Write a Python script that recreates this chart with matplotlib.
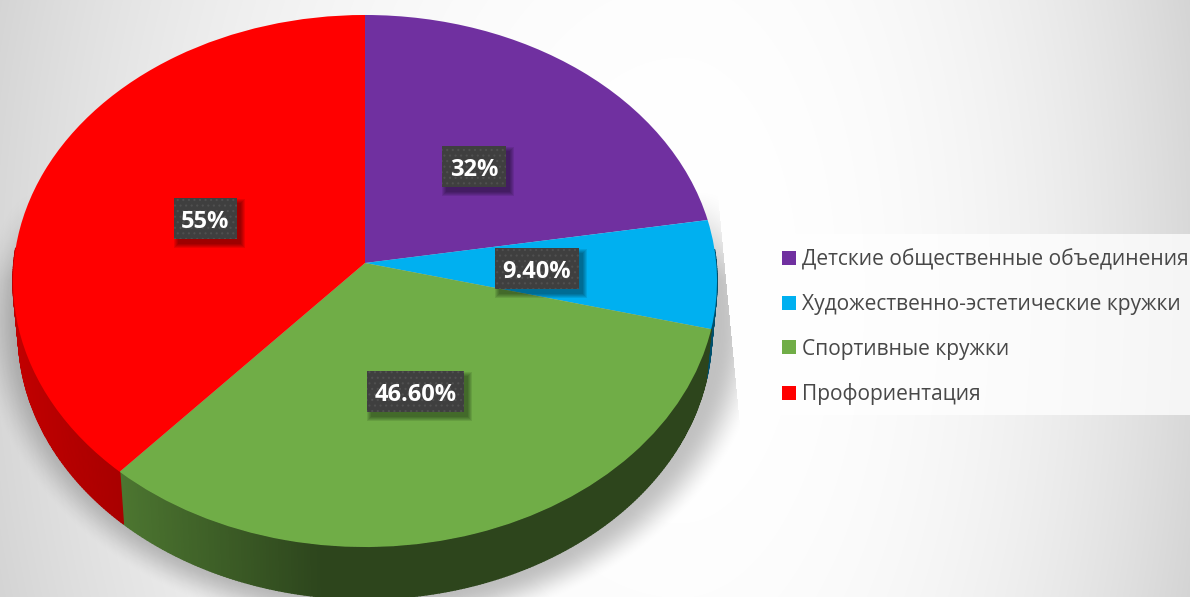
import numpy as np
import matplotlib
matplotlib.use("Agg")
import matplotlib.pyplot as plt
from matplotlib.collections import PolyCollection
from matplotlib.patches import Rectangle
from matplotlib.transforms import Transform
from matplotlib.colors import to_rgb

categories = ["Детские общественные объединения", "Художественно-эстетические кружки",
              "Спортивные кружки", "Профориентация"]
values = [32, 9.4, 46.6, 55]
value_labels = ["32%", "9.40%", "46.60%", "55%"]
colors = ["#7030A0", "#00B0F0", "#70AD47", "#FF0000"]

W, H = 1190, 597
plt.rcParams['font.family'] = ['Open Sans', 'DejaVu Sans']
plt.rcParams['hatch.linewidth'] = 0.8

CX, CY, AX_, BY, K = 365.0, 263.0, 351.2, 247.0, 0.0677
DEPTH, SHRINK = 52.0, 0.985


class Perspective(Transform):
    input_dims = output_dims = 2

    def __init__(self, dy=0.0, sx=1.0):
        super().__init__()
        self.dy, self.sx = dy, sx

    def transform_non_affine(self, pts):
        pts = np.asarray(pts, float)
        u, v = pts[:, 0], pts[:, 1]
        w = 1 + K * v
        return np.column_stack((CX + self.sx * AX_ * u / w, (CY - BY * v) / w + self.dy))


fig = plt.figure(figsize=(W / 100, H / 100), dpi=100)
ax = fig.add_axes([0, 0, 1, 1])

# background: soft radial vignette
yy, xx = np.mgrid[0:H, 0:W]
dx = np.where(xx < 680, (xx - 680) / 680.0, (xx - 680) / 510.0)
dy = (yy - 290) / 1000.0
R = np.sqrt(dx ** 2 + dy ** 2)
bg = np.clip(1 - 0.15 * R ** 2.5, 0, 1)
ax.imshow(np.dstack([bg] * 3), extent=(0, W, H, 0), aspect='auto', zorder=0, interpolation='bilinear')

# shadow behind the pie
ex, ey = (xx - 372) / 395.0, (yy - 320) / 315.0
rr = np.sqrt(ex ** 2 + ey ** 2)
sh = np.clip((1.0 - rr) / 0.12, 0, 1)
sh = sh * sh * (3 - 2 * sh) * 0.24 * np.clip((yy - 190) / 90.0, 0, 1)
clip_edge = 718 + (yy - 200) * 22 / 230
sh = np.where(xx > clip_edge, 0, sh)
rgba = np.zeros((H, W, 4))
rgba[..., 3] = sh
ax.imshow(rgba, extent=(0, W, H, 0), aspect='auto', zorder=1, interpolation='bilinear')

# side wall, one quad per small arc (front half only)
top_t, bot_t = Perspective(), Perspective(DEPTH, SHRINK)
frac = np.cumsum([0] + values) / np.sum(values)
polys, cols = [], []
for i, c in enumerate(colors):
    a0, a1 = frac[i] * 360, frac[i + 1] * 360
    n = max(int((a1 - a0) / 0.5), 2)
    edges = np.radians(90 - np.linspace(a0, a1, n + 1))
    pts = np.column_stack((np.cos(edges), np.sin(edges)))
    t, b = top_t.transform(pts), bot_t.transform(pts)
    base = np.array(to_rgb(c))
    for j in range(n):
        if pts[j][1] > 0.05 and pts[j + 1][1] > 0.05:
            continue
        polys.append([t[j], t[j + 1], b[j + 1], b[j]])
        xm = (t[j][0] + t[j + 1][0]) / 2
        if i == 2:
            f = np.clip((xm - 120) / 200, 0, 1)
            shade = 0.68 + (0.40 - 0.68) * f
        elif i == 3:
            f = np.clip((xm - 10) / 110, 0, 1)
            shade = 0.76 - 0.10 * f
        else:
            shade = 0.45
        cols.append(base * shade)
ax.add_collection(PolyCollection(polys, facecolors=cols, edgecolors=cols, linewidths=1.0,
                                 joinstyle='round', zorder=2))

# pie top
wedges, _ = ax.pie(values, colors=colors, startangle=90, counterclock=False)
for w in wedges:
    w.set_transform(Perspective() + ax.transData)
    w.set_zorder(3)
    w.set_clip_on(False)

ax.set_aspect('auto')
ax.set_xlim(0, W)
ax.set_ylim(H, 0)
ax.set_frame_on(False)
ax.set_xticks([])
ax.set_yticks([])

# data labels
boxes = [(442, 146, 64), (495, 248, 84), (367, 371, 97), (174, 198, 63)]
BOX_H = 41
for txt, (bx, by, bw) in zip(value_labels, boxes):
    for g in range(5):
        ax.add_patch(Rectangle((bx + 4 - g, by + 5 - g), bw + 2 * g, BOX_H + 2 * g, fc='black',
                               ec='none', alpha=0.09, zorder=4))
    ax.add_patch(Rectangle((bx, by), bw, BOX_H, fc='#3F3F3F', ec='#505050', lw=0, hatch='...', zorder=5))
    ax.text(bx + bw / 2, by + BOX_H / 2 + 0.5, txt, color='white', fontsize=17, fontweight='bold',
            ha='center', va='center_baseline', zorder=6)

# legend
ax.add_patch(Rectangle((770, 234), 420, 181, fc='white', ec='none', alpha=0.75, zorder=1.5))
leg = ax.legend(wedges, categories, loc='upper left', bbox_to_anchor=(776 / W, 1 - 243 / H),
                frameon=False, fontsize=15.1, labelcolor='#484848', handlelength=0.67, handleheight=0.67,
                handletextpad=0.25, labelspacing=1.12, borderpad=0.3, borderaxespad=0)
leg.set_zorder(7)

fig.savefig("out.png", dpi=100)
